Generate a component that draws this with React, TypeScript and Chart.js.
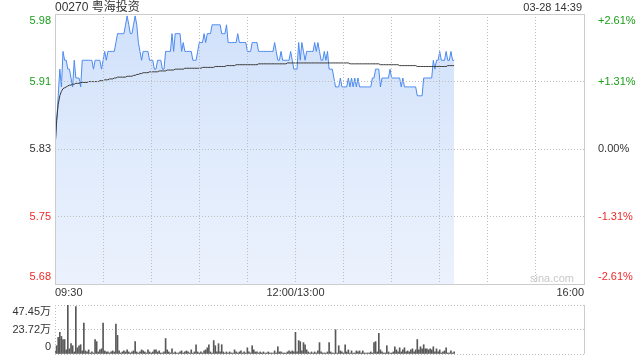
import React, { useEffect, useRef } from 'react';
import { Chart, registerables } from 'chart.js';

Chart.register(...registerables);

const STOCK_TITLE = '00270 粤海投资';
const STAMP = '03-28 14:39';
const WATERMARK = 'sina.com';
const PREV_CLOSE = 5.83;
const RANGE_PCT = 2.61;
const TOTAL_MINUTES = 330;

const gridMinutes = [0, 30, 60, 90, 120, 150, 180, 210, 240, 270, 300, 330];
const timeLabelMinutes = [0, 150, 330];
const timeLabelTexts = ['09:30', '12:00/13:00', '16:00'];
const priceLabels = ['5.68', '5.75', '5.83', '5.91', '5.98'];
const pctLabels = ['-2.61%', '-1.31%', '0.00%', '+1.31%', '+2.61%'];
const volTicks = [0, 23.72, 47.45];
const volLabels = ['0', '23.72万', '47.45万'];

const price = [
  5.83, 5.86, 5.89, 5.92, 5.90, 5.94, 5.93, 5.93, 5.92, 5.92,
  5.91, 5.90, 5.93, 5.91, 5.91, 5.91, 5.90, 5.93, 5.93, 5.93,
  5.93, 5.93, 5.93, 5.93, 5.92, 5.93, 5.93, 5.93, 5.93, 5.92,
  5.93, 5.94, 5.93, 5.94, 5.94, 5.94, 5.94, 5.94, 5.95, 5.96,
  5.96, 5.96, 5.96, 5.96, 5.97, 5.98, 5.97, 5.96, 5.96, 5.97,
  5.98, 5.97, 5.95, 5.94, 5.93, 5.94, 5.94, 5.94, 5.94, 5.93,
  5.93, 5.93, 5.92, 5.92, 5.93, 5.93, 5.93, 5.92, 5.92, 5.94,
  5.94, 5.94, 5.94, 5.96, 5.94, 5.96, 5.96, 5.96, 5.96, 5.94,
  5.95, 5.94, 5.94, 5.94, 5.94, 5.94, 5.93, 5.93, 5.93, 5.94,
  5.95, 5.95, 5.95, 5.96, 5.95, 5.96, 5.96, 5.96, 5.97, 5.97,
  5.97, 5.97, 5.97, 5.97, 5.96, 5.96, 5.96, 5.97, 5.95, 5.95,
  5.95, 5.95, 5.95, 5.95, 5.96, 5.95, 5.95, 5.95, 5.95, 5.95,
  5.94, 5.94, 5.94, 5.95, 5.95, 5.95, 5.95, 5.94, 5.94, 5.94,
  5.94, 5.94, 5.94, 5.94, 5.94, 5.94, 5.94, 5.95, 5.94, 5.93,
  5.93, 5.94, 5.93, 5.93, 5.93, 5.93, 5.93, 5.94, 5.93, 5.92,
  5.92, 5.92, 5.95, 5.93, 5.95, 5.94, 5.93, 5.94, 5.94, 5.94,
  5.94, 5.94, 5.95, 5.94, 5.95, 5.94, 5.93, 5.93, 5.94, 5.93,
  5.94, 5.92, 5.92, 5.92, 5.91, 5.90, 5.90, 5.90, 5.91, 5.90,
  5.90, 5.90, 5.90, 5.91, 5.90, 5.91, 5.90, 5.91, 5.90, 5.91,
  5.90, 5.90, 5.90, 5.90, 5.90, 5.90, 5.90, 5.90, 5.91, 5.91,
  5.92, 5.92, 5.92, 5.90, 5.91, 5.91, 5.91, 5.91, 5.91, 5.92,
  5.91, 5.91, 5.91, 5.91, 5.91, 5.91, 5.90, 5.91, 5.90, 5.90,
  5.90, 5.90, 5.90, 5.90, 5.90, 5.90, 5.89, 5.89, 5.89, 5.89,
  5.91, 5.91, 5.91, 5.91, 5.91, 5.91, 5.93, 5.92, 5.93, 5.93,
  5.94, 5.93, 5.93, 5.93, 5.94, 5.93, 5.93, 5.94, 5.93, 5.93,
];

const avgPrice = [
  5.830, 5.862, 5.880, 5.890, 5.895, 5.898, 5.899, 5.900, 5.901, 5.902,
  5.902, 5.903, 5.903, 5.904, 5.904, 5.904, 5.905, 5.905, 5.905, 5.905,
  5.905, 5.906, 5.906, 5.906, 5.906, 5.906, 5.906, 5.906, 5.907, 5.907,
  5.907, 5.908, 5.908, 5.908, 5.909, 5.909, 5.909, 5.910, 5.910, 5.911,
  5.911, 5.911, 5.911, 5.911, 5.911, 5.912, 5.912, 5.912, 5.912, 5.913,
  5.913, 5.914, 5.914, 5.915, 5.915, 5.916, 5.916, 5.916, 5.916, 5.917,
  5.917, 5.917, 5.917, 5.917, 5.917, 5.918, 5.918, 5.918, 5.918, 5.918,
  5.919, 5.919, 5.919, 5.919, 5.919, 5.920, 5.920, 5.920, 5.920, 5.920,
  5.920, 5.921, 5.921, 5.921, 5.921, 5.921, 5.921, 5.921, 5.921, 5.921,
  5.921, 5.921, 5.922, 5.922, 5.922, 5.922, 5.922, 5.922, 5.922, 5.922,
  5.923, 5.923, 5.923, 5.923, 5.923, 5.923, 5.923, 5.924, 5.924, 5.924,
  5.924, 5.924, 5.924, 5.925, 5.925, 5.925, 5.925, 5.925, 5.925, 5.925,
  5.925, 5.925, 5.925, 5.925, 5.925, 5.925, 5.925, 5.926, 5.926, 5.926,
  5.926, 5.926, 5.926, 5.926, 5.926, 5.926, 5.926, 5.926, 5.926, 5.926,
  5.926, 5.926, 5.926, 5.926, 5.926, 5.927, 5.927, 5.927, 5.927, 5.927,
  5.927, 5.927, 5.927, 5.927, 5.927, 5.927, 5.927, 5.927, 5.927, 5.927,
  5.927, 5.927, 5.927, 5.927, 5.927, 5.927, 5.927, 5.927, 5.927, 5.927,
  5.927, 5.927, 5.927, 5.927, 5.927, 5.927, 5.927, 5.927, 5.927, 5.927,
  5.927, 5.927, 5.927, 5.927, 5.926, 5.926, 5.926, 5.926, 5.926, 5.926,
  5.926, 5.926, 5.926, 5.926, 5.926, 5.926, 5.926, 5.926, 5.926, 5.926,
  5.926, 5.926, 5.926, 5.925, 5.925, 5.925, 5.925, 5.925, 5.925, 5.925,
  5.925, 5.925, 5.925, 5.925, 5.925, 5.924, 5.924, 5.924, 5.924, 5.924,
  5.924, 5.924, 5.924, 5.924, 5.924, 5.924, 5.923, 5.923, 5.923, 5.923,
  5.923, 5.923, 5.923, 5.923, 5.923, 5.923, 5.923, 5.923, 5.923, 5.923,
  5.923, 5.923, 5.923, 5.923, 5.923, 5.924, 5.924, 5.924, 5.924, 5.924,
];

const volume = [
  3, 8, 16, 21, 17, 14, 14, 4, 47.45, 5,
  10, 8, 2, 46, 6, 8, 9, 3, 30, 3,
  2, 4, 1, 2, 1, 14, 12, 2, 4, 5,
  30, 3, 2, 2, 1, 2, 3, 2, 29, 18,
  3, 1, 2, 3, 2, 4, 2, 1, 2, 3,
  12, 2, 1, 2, 4, 3, 2, 1, 4, 2,
  1, 2, 4, 4, 2, 3, 1, 1, 2, 15,
  4, 2, 1, 5, 1, 2, 1, 1, 2, 3,
  1, 2, 3, 2, 1, 4, 1, 2, 9, 2,
  1, 2, 1, 3, 4, 6, 9, 2, 1, 13,
  8, 2, 10, 2, 9, 2, 1, 2, 1, 2,
  1, 1, 4, 2, 1, 2, 3, 1, 2, 1,
  6, 2, 1, 8, 4, 2, 2, 1, 2, 1,
  2, 1, 1, 2, 1, 1, 1, 3, 1, 7,
  2, 2, 1, 1, 1, 2, 3, 2, 3, 2,
  21, 2, 13, 12, 3, 11, 9, 4, 2, 1,
  2, 1, 2, 1, 3, 11, 2, 1, 1, 1,
  2, 11, 2, 1, 1, 23.5, 1, 8, 3, 2,
  1, 9, 2, 4, 1, 3, 1, 1, 3, 2,
  3, 1, 3, 1, 1, 1, 1, 2, 1, 11,
  12, 2, 20, 4, 2, 1, 1, 8, 2, 1,
  1, 2, 7, 4, 2, 6, 2, 4, 6, 2,
  3, 2, 4, 5, 2, 4, 14, 4, 7, 5,
  9, 5, 5, 4, 5, 4, 7, 2, 5, 2,
  4, 1, 2, 3, 6, 1, 1, 3, 1, 2,
];

const FONT_FAMILY = '"Liberation Sans", Arial, "Noto Sans CJK SC", sans-serif';
const GREEN = '#1a9f1a';
const RED = '#ee2a2a';
const DARK = '#333333';
const GRID = '#bdbdbd';
const CLEAR = 'rgba(0,0,0,0)';

const priceLo = PREV_CLOSE * (1 - RANGE_PCT / 100);
const priceHi = PREV_CLOSE * (1 + RANGE_PCT / 100);
const priceTickValues = priceLabels.map((_, i) => priceLo + ((priceHi - priceLo) * i) / (priceLabels.length - 1));

function edgeLabel(text: string, index: number, count: number): string | string[] {
  if (index === 0) return [text, ''];
  if (index === count - 1) return ['', text];
  return text;
}

function levelColor(index: number): string {
  if (index < 2) return RED;
  if (index > 2) return GREEN;
  return DARK;
}

const mainFrame = {
  id: 'mainFrame',
  afterDraw(chart: any) {
    const { ctx, chartArea: a } = chart;
    ctx.save();
    ctx.strokeStyle = '#cccccc';
    ctx.lineWidth = 1;
    ctx.setLineDash([]);
    ctx.strokeRect(Math.round(a.left) + 0.5, Math.round(a.top) + 0.5, Math.round(a.right - a.left), Math.round(a.bottom - a.top));
    ctx.restore();
  },
};

const volFrame = {
  id: 'volFrame',
  afterDraw(chart: any) {
    const { ctx, chartArea: a } = chart;
    ctx.save();
    ctx.lineWidth = 1;
    ctx.strokeStyle = '#cccccc';
    ctx.setLineDash([]);
    ctx.beginPath();
    ctx.moveTo(Math.round(a.right) + 0.5, a.top);
    ctx.lineTo(Math.round(a.right) + 0.5, a.bottom);
    ctx.stroke();
    ctx.strokeStyle = GRID;
    ctx.setLineDash([1, 2]);
    ctx.beginPath();
    ctx.moveTo(Math.round(a.left) + 0.5, a.top);
    ctx.lineTo(Math.round(a.left) + 0.5, a.bottom);
    ctx.stroke();
    ctx.restore();
  },
};

export default function App() {
  const mainRef = useRef<HTMLCanvasElement | null>(null);
  const volRef = useRef<HTMLCanvasElement | null>(null);

  useEffect(() => {
    const font = { family: FONT_FAMILY, size: 11 };
    const main = new Chart(mainRef.current as HTMLCanvasElement, {
      type: 'line',
      data: {
        datasets: [
          {
            label: '均价',
            data: avgPrice.map((v, i) => ({ x: i, y: v })),
            borderColor: '#3a3a3a',
            borderWidth: 1,
            pointRadius: 0,
            tension: 0,
            fill: false,
            order: 0,
          },
          {
            label: '价格',
            data: price.map((v, i) => ({ x: i, y: v })),
            borderColor: '#4a89f0',
            borderWidth: 1,
            pointRadius: 0,
            tension: 0,
            fill: 'start',
            order: 1,
            backgroundColor: (c: any) => {
              const area = c.chart.chartArea;
              if (!area) return '#dfe9fb';
              const g = c.chart.ctx.createLinearGradient(0, area.top, 0, area.bottom);
              g.addColorStop(0, 'rgba(150,188,245,0.45)');
              g.addColorStop(1, 'rgba(190,212,248,0.3)');
              return g;
            },
          },
        ],
      },
      options: {
        responsive: false,
        animation: false,
        layout: { padding: { top: 14, left: 0, right: 0, bottom: 0 } },
        plugins: { legend: { display: false }, tooltip: { enabled: false } },
        scales: {
          x: {
            type: 'linear',
            min: 0,
            max: TOTAL_MINUTES,
            position: 'bottom',
            afterBuildTicks: (s: any) => {
              s.ticks = gridMinutes.map((v) => ({ value: v }));
            },
            afterFit: (s: any) => {
              s.height = 16;
              s.paddingLeft = 0;
              s.paddingRight = 0;
            },
            ticks: {
              align: 'inner',
              autoSkip: false,
              maxRotation: 0,
              minRotation: 0,
              padding: 2,
              font,
              color: DARK,
              callback: (v: any) => {
                const k = timeLabelMinutes.indexOf(Number(v));
                return k >= 0 ? timeLabelTexts[k] : '';
              },
            },
            grid: {
              z: 1,
              drawTicks: false,
              color: (c: any) =>
                c.tick && (c.tick.value === 0 || c.tick.value === TOTAL_MINUTES) ? CLEAR : GRID,
              borderDash: [1, 2],
            },
            border: { display: false, dash: [1, 2] },
          },
          y: {
            position: 'left',
            min: priceLo,
            max: priceHi,
            afterBuildTicks: (s: any) => {
              s.ticks = priceTickValues.map((v) => ({ value: v }));
            },
            afterFit: (s: any) => {
              s.width = 55;
              s.paddingTop = 0;
              s.paddingBottom = 0;
            },
            ticks: {
              autoSkip: false,
              padding: 4,
              font,
              color: (c: any) => levelColor(c.index),
              callback: (_v: any, i: number) => edgeLabel(priceLabels[i], i, priceLabels.length),
            },
            grid: {
              z: 1,
              drawTicks: false,
              color: (c: any) => (c.index === 0 || c.index === priceLabels.length - 1 ? CLEAR : GRID),
              borderDash: [1, 2],
            },
            border: { display: false, dash: [1, 2] },
          },
          y2: {
            position: 'right',
            min: priceLo,
            max: priceHi,
            afterBuildTicks: (s: any) => {
              s.ticks = priceTickValues.map((v) => ({ value: v }));
            },
            afterFit: (s: any) => {
              s.width = 56;
              s.paddingTop = 0;
              s.paddingBottom = 0;
            },
            ticks: {
              autoSkip: false,
              padding: 6,
              font,
              color: (c: any) => levelColor(c.index),
              callback: (_v: any, i: number) => edgeLabel(pctLabels[i], i, pctLabels.length),
            },
            grid: { display: false },
            border: { display: false },
          },
        },
      } as any,
      plugins: [mainFrame],
    });

    const vol = new Chart(volRef.current as HTMLCanvasElement, {
      type: 'bar',
      data: {
        datasets: [
          {
            label: '成交量',
            data: volume.map((v, i) => ({ x: i, y: v })),
            backgroundColor: '#585858',
            borderWidth: 0,
            barThickness: 1,
          },
        ],
      },
      options: {
        responsive: false,
        animation: false,
        layout: { padding: { top: 5, bottom: 6, left: 0, right: 56 } },
        plugins: { legend: { display: false }, tooltip: { enabled: false } },
        scales: {
          x: {
            type: 'linear',
            min: 0,
            max: TOTAL_MINUTES,
            display: false,
            offset: false,
            grid: { offset: false },
          },
          y: {
            min: 0,
            max: volTicks[volTicks.length - 1],
            afterBuildTicks: (s: any) => {
              s.ticks = volTicks.map((v) => ({ value: v }));
            },
            afterFit: (s: any) => {
              s.width = 55;
              s.paddingTop = 0;
              s.paddingBottom = 0;
            },
            ticks: {
              autoSkip: false,
              padding: 4,
              font,
              color: DARK,
              callback: (_v: any, i: number) => edgeLabel(volLabels[i], i, volLabels.length),
            },
            grid: { drawTicks: false, color: GRID, borderDash: [1, 2] },
            border: { display: false, dash: [1, 2] },
          },
        },
      } as any,
      plugins: [volFrame],
    });

    return () => {
      main.destroy();
      vol.destroy();
    };
  }, []);

  const textBase: React.CSSProperties = {
    position: 'absolute',
    fontFamily: FONT_FAMILY,
    whiteSpace: 'nowrap',
    margin: 0,
  };

  return (
    <div style={{ position: 'absolute', left: 0, top: 0, width: 640, height: 360, background: '#ffffff', overflow: 'hidden' }}>
      <canvas ref={mainRef} width={640} height={300} style={{ position: 'absolute', left: 0, top: 0, width: 640, height: 300 }} />
      <canvas ref={volRef} width={640} height={60} style={{ position: 'absolute', left: 0, top: 300, width: 640, height: 60 }} />
      <div style={{ ...textBase, left: 55, top: 0, fontSize: 12, lineHeight: '14px', color: DARK }}>{STOCK_TITLE}</div>
      <div style={{ ...textBase, right: 58, top: 0, fontSize: 11, lineHeight: '14px', color: DARK }}>{STAMP}</div>
      <div style={{ ...textBase, right: 66, top: 271, fontSize: 11, lineHeight: '14px', color: '#c8c8c8' }}>{WATERMARK}</div>
    </div>
  );
}
